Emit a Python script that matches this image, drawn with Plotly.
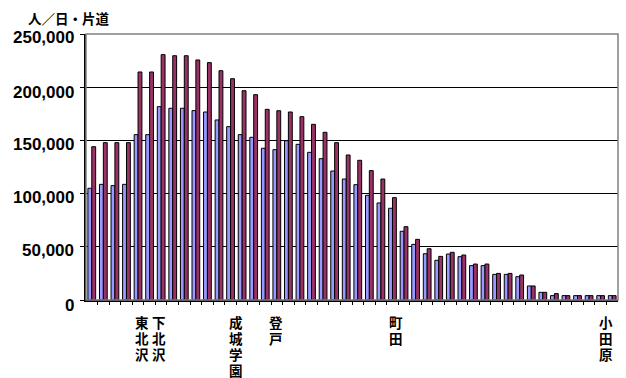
import plotly.graph_objects as go

# Section index along the line (46 sections between 47 stations)
sections = list(range(46))

# Series values (persons / day / one direction)
series_a = [105000, 108700, 107500, 108700, 155400, 155400, 181700, 180200, 180200, 178000,
            176700, 169200, 162900, 155400, 152900, 142600, 141300, 149700, 146300, 138800,
            132800, 121200, 113700, 108400, 98400, 91200, 86200, 64600, 52300, 43500,
            37300, 43200, 40700, 32300, 32300, 24100, 24100, 21900, 13200, 7200,
            4100, 4100, 4100, 4100, 4100, 4100]
series_b = [144100, 147900, 147900, 147900, 214300, 214300, 230600, 229600, 229600, 225600,
            223100, 215500, 208000, 196700, 193000, 179200, 177900, 176700, 172300, 165100,
            157600, 147900, 136300, 131300, 121600, 113700, 96200, 68900, 57000, 48200,
            41000, 44800, 42300, 33800, 33800, 25000, 25000, 23500, 13200, 7200,
            6000, 4100, 4100, 4100, 4100, 4100]

# Station labels shown under the axis and where they sit (in section units)
station_labels = ["東北沢", "下北沢", "成城学園", "登戸", "町田", "小田原"]
station_label_pos = [4.35, 5.8, 12.47, 15.93, 26.3, 44.45]

y_tickvals = [0, 50000, 100000, 150000, 200000, 250000]
y_ticktext = ["0", "50,000", "100,000", "150,000", "200,000", "250,000"]
y_title = "人／日・片道"

fig = go.Figure()
fig.add_trace(go.Bar(x=sections, y=series_a, marker=dict(color="#9999FF", line=dict(color="#000000", width=1))))
fig.add_trace(go.Bar(x=sections, y=series_b, marker=dict(color="#993366", line=dict(color="#000000", width=1))))

annotations = []
cjk_font = dict(family="Noto Sans CJK JP", size=13.5, color="#000000", weight="bold")
for lab, pos in zip(station_labels, station_label_pos):
    for k, ch in enumerate(lab):
        annotations.append(dict(
            x=pos, y=0, xref="x", yref="paper", xanchor="center", yanchor="middle",
            yshift=-(22 + 16 * k), borderpad=0, text=ch, showarrow=False, font=cjk_font,
        ))
# y tick labels (slightly below their gridlines as in the reference)
label_shift = [-5, -4, -4, -4, -5, -3]
for v, t, s in zip(y_tickvals, y_ticktext, label_shift):
    annotations.append(dict(
        x=0, y=v, xref="paper", yref="y", xanchor="right", yanchor="middle",
        xshift=-10, yshift=s, text=t, showarrow=False,
        font=dict(family="Liberation Sans", size=17, color="#000000", weight="bold"),
    ))
annotations.append(dict(
    x=-0.113, y=1.06, xref="paper", yref="paper", xanchor="left", yanchor="middle",
    text=y_title, showarrow=False,
    font=dict(family="Noto Sans CJK JP", size=13.5, color="#000000", weight="bold"),
))

fig.update_layout(
    width=626, height=378,
    margin=dict(l=86, r=8, t=34, b=78),
    paper_bgcolor="#FFFFFF", plot_bgcolor="#FFFFFF",
    barmode="group", bargap=0.33, bargroupgap=0,
    showlegend=False,
    annotations=annotations,
    shapes=[dict(type="rect", xref="paper", yref="paper", x0=0, x1=1, y0=0, y1=1,
                 line=dict(color="#808080", width=1.5), layer="above")],
)
fig.update_xaxes(
    range=[-0.5, 45.5], showticklabels=False, showgrid=False, zeroline=False,
    showline=True, linecolor="#000000", linewidth=2,
    ticks="outside", ticklen=3, tickcolor="#000000",
    tickvals=[i + 0.5 for i in sections[:-1]],
)
fig.update_yaxes(
    range=[0, 250000], tickvals=y_tickvals, showticklabels=False,
    showgrid=True, gridcolor="#000000", gridwidth=1, zeroline=False,
    showline=True, linecolor="#000000", linewidth=1.5,
    ticks="outside", ticklen=4, tickcolor="#000000",
)

fig.write_html("out.html")
